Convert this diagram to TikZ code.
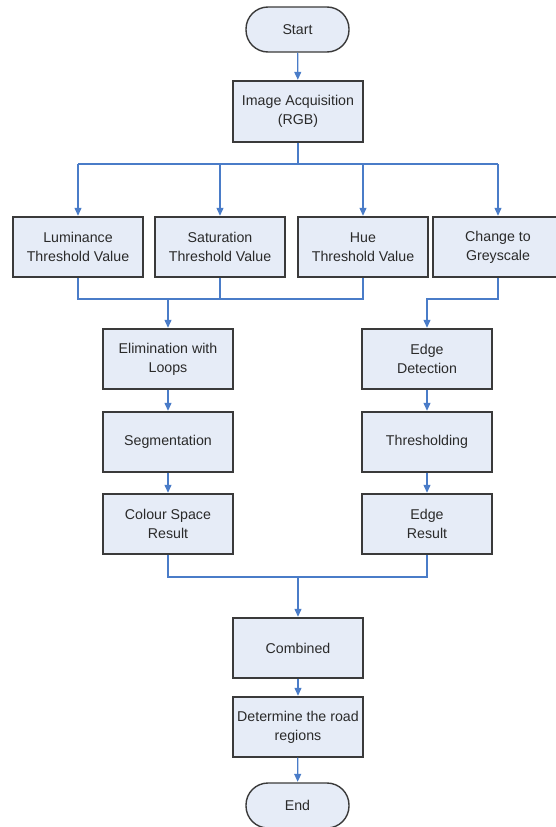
\documentclass[tikz,border=0pt]{standalone}
\usepackage{fontspec}
\setmainfont{Liberation Sans}
\usetikzlibrary{arrows.meta}
\definecolor{boxfill}{HTML}{E6ECF7}
\definecolor{boxdraw}{HTML}{3A3A3A}
\definecolor{linkblue}{HTML}{4A7CC8}
\definecolor{txt}{HTML}{2A2A2A}
\tikzset{
  procbox/.style={draw=boxdraw, fill=boxfill, line width=1.4pt, minimum width=130pt, minimum height=60pt, inner sep=0pt, align=center, text=txt, font=\fontsize{14.2}{19.3}\selectfont},
  termbox/.style={procbox, minimum width=103pt, minimum height=45pt, rounded corners=22pt},
  link/.style={draw=linkblue, line width=1.2pt},
  arr/.style={link, -{Triangle[width=7pt,length=8pt]}, shorten >=0.5pt}
}
\begin{document}
\begin{tikzpicture}[x=1pt,y=-1pt]
\useasboundingbox (0,0) rectangle (556,827);
\node[termbox] (start) at (297.5,29.5) {Start};
\node[procbox, minimum height=61pt] (acq) at (298,111.5) {Image Acquisition\\(RGB)};
\node[procbox] (lum) at (78,247) {Luminance\\Threshold Value};
\node[procbox] (sat) at (220,247) {Saturation\\Threshold Value};
\node[procbox] (hue) at (363,247) {Hue\\Threshold Value};
\node[procbox] (chg) at (498,247) {Change to\\Greyscale};
\node[procbox] (elim) at (168,359) {Elimination with\\Loops};
\node[procbox] (seg) at (168,442) {Segmentation};
\node[procbox] (col) at (168,524) {Colour Space\\Result};
\node[procbox] (edge) at (427,359) {Edge\\Detection};
\node[procbox] (thr) at (427,442) {Thresholding};
\node[procbox] (eres) at (427,524) {Edge\\Result};
\node[procbox] (comb) at (298,648) {Combined};
\node[procbox] (det) at (298,727) {Determine the road\\regions};
\node[termbox] (end) at (297.5,805.5) {End};
\coordinate (bus1) at (298,164);
\coordinate (bus2) at (168,299);
\coordinate (bus3) at (298,577);
% top
\draw[arr] (start) -- (acq);
\draw[link] (acq.south) -- (bus1);
\draw[link] (lum.north |- bus1) -- (chg.north |- bus1);
\draw[arr] (lum.north |- bus1) -- (lum.north);
\draw[arr] (sat.north |- bus1) -- (sat.north);
\draw[arr] (hue.north |- bus1) -- (hue.north);
\draw[arr] (chg.north |- bus1) -- (chg.north);
% merge to left column
\draw[link] (lum.south) -- (lum.south |- bus2) -- (hue.south |- bus2) -- (hue.south);
\draw[link] (sat.south) -- (sat.south |- bus2);
\draw[arr] (bus2) -- (elim.north);
\draw[arr] (chg.south) -- (chg.south |- bus2) -- (edge.north |- bus2) -- (edge.north);
% columns
\draw[arr] (elim) -- (seg);
\draw[arr] (seg) -- (col);
\draw[arr] (edge) -- (thr);
\draw[arr] (thr) -- (eres);
% merge bottom
\draw[link] (col.south) -- (col.south |- bus3) -- (eres.south |- bus3) -- (eres.south);
\draw[arr] (bus3) -- (comb.north);
\draw[arr] (comb) -- (det);
\draw[arr] (det) -- (end);
\end{tikzpicture}
\end{document}
